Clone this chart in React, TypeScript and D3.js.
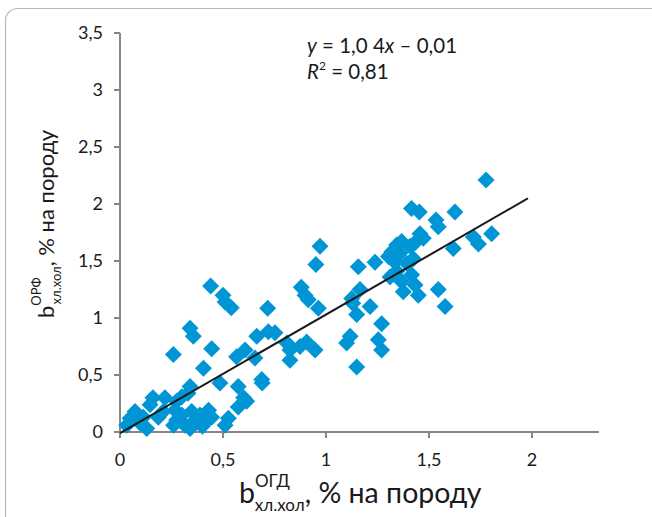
import React from "react";
import * as d3 from "d3";

const xTicks = [0, 0.5, 1, 1.5, 2];
const xTickLabels = ["0", "0,5", "1", "1,5", "2"];
const yTicks = [0, 0.5, 1, 1.5, 2, 2.5, 3, 3.5];
const yTickLabels = ["0", "0,5", "1", "1,5", "2", "2,5", "3", "3,5"];

const xValues = [
  1.777, 1.415, 1.453, 1.626, 1.534, 1.545, 1.804, 1.715, 1.74, 1.618, 1.456, 1.472, 1.343, 1.367, 1.408, 1.432, 1.319, 1.359, 1.424, 1.335, 1.392, 1.303, 1.157, 1.238, 1.311, 1.343, 1.367, 1.416, 1.432, 1.375, 1.448, 1.545, 1.578, 1.165, 1.125, 1.214, 1.149, 1.27, 0.971, 0.951,
  0.44, 0.5, 0.51, 0.54, 0.717, 0.88, 0.898, 0.914, 0.963, 0.34, 0.356, 0.445, 0.664, 0.72, 0.752, 0.566, 0.607, 0.655, 0.81, 0.825, 0.874, 0.906, 0.947, 0.825, 1.117, 1.1, 1.149, 1.13, 1.254, 1.27, 0.405, 0.485, 0.574, 0.688, 0.69, 0.6, 0.259,
  0.615, 0.574, 0.526, 0.51, 0.34, 0.33, 0.3, 0.275, 0.218, 0.16, 0.146, 0.073, 0.049, 0.033, 0.097, 0.13, 0.186, 0.21, 0.267, 0.275, 0.3, 0.315, 0.348, 0.364, 0.388, 0.41, 0.43, 0.445, 0.4, 0.26, 0.34, 0.113,
];
const yValues = [
  2.21, 1.96, 1.93, 1.93, 1.86, 1.8, 1.74, 1.71, 1.65, 1.61, 1.74, 1.7, 1.64, 1.67, 1.63, 1.66, 1.58, 1.57, 1.52, 1.49, 1.48, 1.54, 1.45, 1.49, 1.36, 1.41, 1.32, 1.38, 1.29, 1.23, 1.2, 1.25, 1.1, 1.25, 1.17, 1.1, 1.03, 0.95, 1.63, 1.47,
  1.28, 1.2, 1.14, 1.09, 1.085, 1.27, 1.2, 1.16, 1.085, 0.91, 0.84, 0.73, 0.84, 0.88, 0.87, 0.66, 0.72, 0.65, 0.78, 0.72, 0.75, 0.79, 0.72, 0.63, 0.84, 0.78, 0.57, 1.13, 0.81, 0.72, 0.56, 0.43, 0.4, 0.46, 0.43, 0.3, 0.68,
  0.27, 0.22, 0.12, 0.06, 0.4, 0.34, 0.31, 0.27, 0.3, 0.3, 0.24, 0.18, 0.12, 0.06, 0.08, 0.03, 0.13, 0.18, 0.19, 0.105, 0.15, 0.06, 0.18, 0.105, 0.15, 0.08, 0.19, 0.13, 0.05, 0.06, 0.03, 0.13,
];

const slope = 1.04;
const intercept = -0.01;
const trendRange = [0, 1.98];

const FONT = "Lato, 'Open Sans', sans-serif";

export default function App() {
  const x = d3.scaleLinear().domain([0, 2]).range([120, 532]);
  const y = d3.scaleLinear().domain([0, 3.5]).range([432, 33]);
  const xMax = 2.325;
  const r = 8.5;
  const diamond = `M0,${-r}L${r},0L0,${r}L${-r},0Z`;
  const axisColor = "#868686";

  const line = d3
    .line<number>()
    .x((d) => x(d))
    .y((d) => y(slope * d + intercept));

  return (
    <svg
      width={652}
      height={517}
      style={{ position: "absolute", left: 0, top: 0, background: "#fff" }}
      fontFamily={FONT}
    >
      <rect x={5.5} y={8.5} width={700} height={560} rx={12} fill="#fff" stroke="#b8b8b8" strokeWidth={1.2} />

      {/* axes */}
      <line x1={x(0)} x2={x(xMax)} y1={y(0)} y2={y(0)} stroke={axisColor} strokeWidth={2} />
      <line x1={x(0)} x2={x(0)} y1={y(0)} y2={y(3.5)} stroke={axisColor} strokeWidth={2} />
      {yTicks.map((t, i) => (
        <g key={"yt" + i}>
          <line x1={x(0) - 6} x2={x(0)} y1={y(t)} y2={y(t)} stroke={axisColor} strokeWidth={2} />
          <text x={103} y={y(t)} dy="0.35em" textAnchor="end" fontSize={18} fill="#1a1a1a">
            {yTickLabels[i]}
          </text>
        </g>
      ))}
      {xTicks.map((t, i) => (
        <g key={"xt" + i}>
          <line x1={x(t)} x2={x(t)} y1={y(0)} y2={y(0) + 6} stroke={axisColor} strokeWidth={2} />
          <text x={x(t)} y={466} textAnchor="middle" fontSize={18} fill="#1a1a1a">
            {xTickLabels[i]}
          </text>
        </g>
      ))}

      {/* points */}
      {xValues.map((v, i) => (
        <path key={"p" + i} d={diamond} transform={`translate(${x(v)},${y(yValues[i])})`} fill="#0096d6" />
      ))}

      {/* trendline */}
      <path d={line(trendRange) || ""} stroke="#1a1a1a" strokeWidth={2} fill="none" />

      {/* equation */}
      <text x={307} y={53} fontSize={20.5} fill="#1a1a1a">
        <tspan fontStyle="italic">y</tspan> = 1,0 4<tspan fontStyle="italic">x</tspan> – 0,01
      </text>
      <text x={307} y={79} fontSize={20.5} fill="#1a1a1a">
        <tspan fontStyle="italic">R</tspan>
        <tspan fontSize={12} dy={-9}>2</tspan>
        <tspan dy={9}> = 0,81</tspan>
      </text>

      {/* x title */}
      <text x={239} y={503} fontSize={28.5} fill="#1a1a1a">
        <tspan>b</tspan>
        <tspan fontSize={17} dy={-16}>ОГД</tspan>
        <tspan fontSize={17} dx={-35} dy={24}>хл.хол</tspan>
        <tspan fontSize={28.5} dy={-8}>, % на породу</tspan>
      </text>

      {/* y title */}
      <text transform="translate(54,318) rotate(-90)" fontSize={22} fill="#1a1a1a">
        <tspan>b</tspan>
        <tspan fontSize={13} dy={-13}>ОРФ</tspan>
        <tspan fontSize={13} dx={-27} dy={20}>хл.хол</tspan>
        <tspan fontSize={22} dy={-7}>, % на породу</tspan>
      </text>
    </svg>
  );
}
